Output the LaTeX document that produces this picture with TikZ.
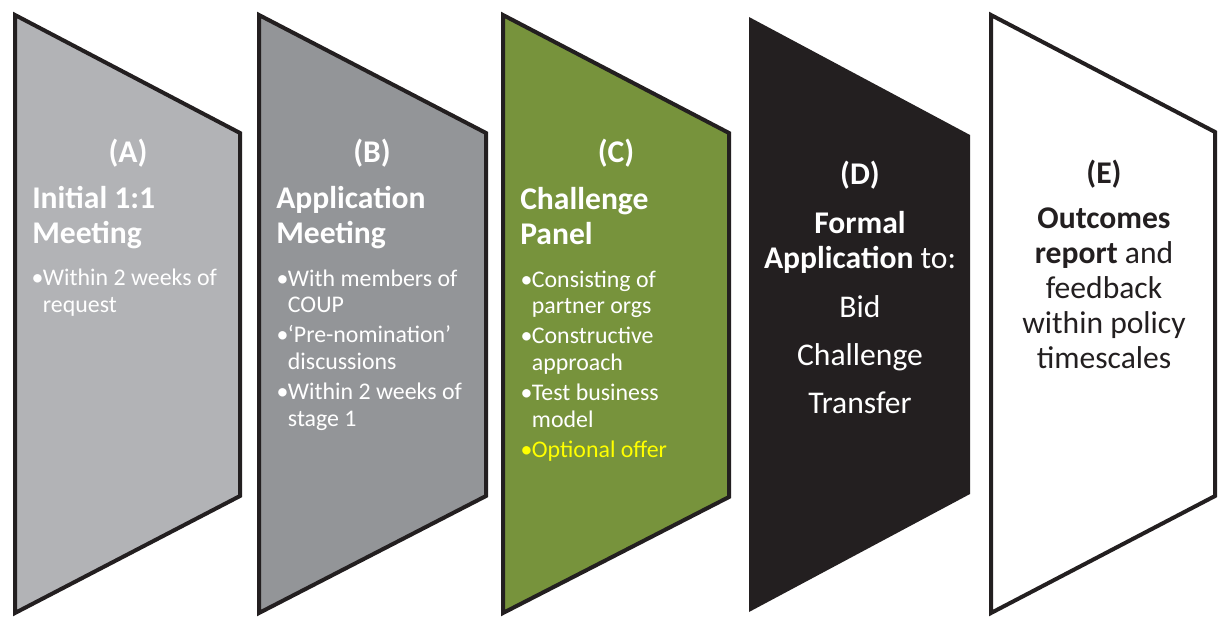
\documentclass[tikz,border=0pt]{standalone}
\usepackage{fontspec}
\setmainfont{Carlito}
\usetikzlibrary{positioning}

\definecolor{stageA}{HTML}{B2B3B6}
\definecolor{stageB}{HTML}{939598}
\definecolor{stageC}{HTML}{77933C}
\definecolor{ink}{HTML}{231F20}
\definecolor{offer}{HTML}{FFFF00}

\newcommand{\bul}{\makebox[8pt][c]{\textbullet}}
\newcommand{\ind}{\hspace*{8pt}}

\begin{document}
\begin{tikzpicture}[x=0.75pt, y=-0.75pt,
    stage/.style={draw=ink, line width=3pt, line join=miter},
    stagetag/.style={font=\bfseries\fontsize{23.7}{26}\selectfont, text=white, anchor=base, inner sep=0pt},
    heading/.style={font=\bfseries\fontsize{23.7}{26.25}\selectfont, text=white, align=left, anchor=base west, inner sep=0pt},
    bullets/.style={font=\fontsize{17.9}{20}\selectfont, text=white, align=left, anchor=base west, inner sep=0pt}]
    \useasboundingbox (0,0) rectangle (1218,617);

    % the five stages
    \filldraw[stage, fill=stageA] (15,15) -- (240,133) -- (240,496) -- (15,613) -- cycle;
    \filldraw[stage, fill=stageB] (259,15) -- (486,133) -- (486,496) -- (259,613) -- cycle;
    \filldraw[stage, fill=stageC] (503,15) -- (729,133) -- (729,497) -- (503,613) -- cycle;
    \fill[ink] (749,17) -- (970,135) -- (970,494) -- (749,612) -- cycle;
    \filldraw[stage, fill=white] (991,15) -- (1215,132) -- (1215,496) -- (991,613) -- cycle;

    % stage A (multi-line nodes sit on their last baseline)
    \node[stagetag] (tagA) at (128,162) {(A)};
    \node[heading] (headA) at (32,243) {Initial 1:1\\Meeting};
    \node[bullets] (bulA) at (32,312) {\bul Within 2 weeks of\\\ind request};

    % stage B
    \node[stagetag] (tagB) at (372,162) {(B)};
    \node[heading] (headB) at (276,243) {Application\\Meeting};
    \node[bullets] (bulB) at (277,426) {\bul With members of\\\ind COUP\\[2.5pt]
        \bul `Pre-nomination'\\\ind discussions\\[2.5pt]
        \bul Within 2 weeks of\\\ind stage 1};

    % stage C
    \node[stagetag] (tagC) at (616,162) {(C)};
    \node[heading] (headC) at (520,244) {Challenge\\Panel};
    \node[bullets] (bulC) at (521,457) {\bul Consisting of\\\ind partner orgs\\[2.5pt]
        \bul Constructive\\\ind approach\\[2.5pt]
        \bul Test business\\\ind model\\[2.5pt]
        \textcolor{offer}{\bul Optional offer}};

    % stage D
    \node[stagetag] (tagD) at (860,185) {(D)};
    \node[heading, align=center, anchor=base] (headD) at (860,268) {Formal\\Application \mdseries to:};
    \node[heading, align=center, anchor=base, font=\fontsize{23.7}{36}\selectfont] (listD) at (860,413) {Bid\\Challenge\\Transfer};

    % stage E
    \node[stagetag, text=ink] (tagE) at (1104,183) {(E)};
    \node[heading, align=center, anchor=base, text=ink, font=\fontsize{23.7}{26.25}\selectfont] (textE) at (1104,368)
        {\textbf{Outcomes}\\\textbf{report} and\\feedback\\within policy\\timescales};
\end{tikzpicture}
\end{document}
